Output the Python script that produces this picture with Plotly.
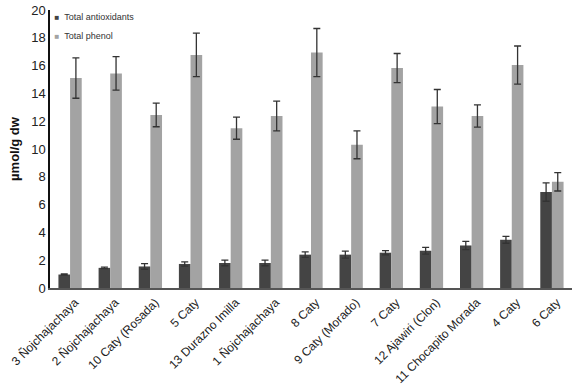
import plotly.graph_objects as go

categories = ["3 Ñojchajachaya", "2 Ñojchajachaya", "10 Caty (Rosada)", "5 Caty",
              "13 Durazno Imilla", "1 Ñojchajachaya", "8 Caty", "9 Caty (Morado)",
              "7 Caty", "12 Ajawiri (Clon)", "11 Chocapito Morada", "4 Caty", "6 Caty"]
antioxidants = [0.97, 1.45, 1.55, 1.73, 1.8, 1.8, 2.4, 2.4, 2.54, 2.68, 3.06, 3.47, 6.9]
antioxidants_err = [0.05, 0.05, 0.2, 0.15, 0.2, 0.2, 0.2, 0.25, 0.15, 0.24, 0.3, 0.25, 0.66]
phenol = [15.1, 15.44, 12.45, 16.77, 11.5, 12.38, 16.94, 10.3, 15.82, 13.05, 12.38, 16.04, 7.64]
phenol_err = [1.45, 1.2, 0.85, 1.57, 0.8, 1.07, 1.73, 1.0, 1.05, 1.23, 0.8, 1.37, 0.66]
y_ticks = [0, 2, 4, 6, 8, 10, 12, 14, 16, 18, 20]

dark = "#444444"
light = "#a3a3a3"
err_style = dict(type="data", visible=True, color="#333333", thickness=1.3, width=3.5)

fig = go.Figure()
fig.add_trace(go.Bar(
    x=categories, y=antioxidants, name="Total antioxidants", showlegend=False,
    marker=dict(color=dark, line=dict(width=0)),
    error_y=dict(array=antioxidants_err, **err_style)))
fig.add_trace(go.Bar(
    x=categories, y=phenol, name="Total phenol", showlegend=False,
    marker=dict(color=light, line=dict(width=0)),
    error_y=dict(array=phenol_err, **err_style)))

# legend entries styled like the reference (small square + label)
for nm, col in [("Total antioxidants", dark), ("Total phenol", light)]:
    fig.add_trace(go.Scatter(
        x=[None], y=[None], mode="markers",
        marker=dict(size=1, color="rgba(0,0,0,0)", line=dict(width=0)),
        name=f"<span style='color:{col};font-size:8px'>■</span>  {nm}", hoverinfo="skip"))

fig.update_layout(
    width=574, height=387,
    margin=dict(l=50, r=2, t=7, b=99),
    paper_bgcolor="white", plot_bgcolor="white",
    barmode="group", bargap=0.42, bargroupgap=0,
    font=dict(family="Liberation Sans, Arial, sans-serif", color="#222222"),
    legend=dict(x=-0.068, y=1.03, xanchor="left", yanchor="top",
                font=dict(size=9, color="#333333"), bgcolor="rgba(0,0,0,0)",
                itemwidth=30, tracegroupgap=0),
    showlegend=True,
)
fig.update_xaxes(
    tickangle=-45, tickfont=dict(size=12, color="#222222"),
    ticklabelshift=5, ticklabelstandoff=1,
    showline=True, linecolor="#555555", linewidth=1.5,
    showgrid=False, ticks="", automargin=False)
fig.update_yaxes(
    range=[0, 20], tickvals=y_ticks, tickfont=dict(size=13, color="#222222"),
    ticklabeloverflow="allow",
    showline=True, linecolor="#111111", linewidth=1.5,
    showgrid=False, zeroline=False, ticks="",
    title=dict(text="<b>µmol/g dw</b>", font=dict(size=13, color="#111111"), standoff=9),
    automargin=False)

fig.write_html("out.html", config={"displayModeBar": False},
               post_script="document.body.style.margin='0';document.body.style.overflow='hidden';")
